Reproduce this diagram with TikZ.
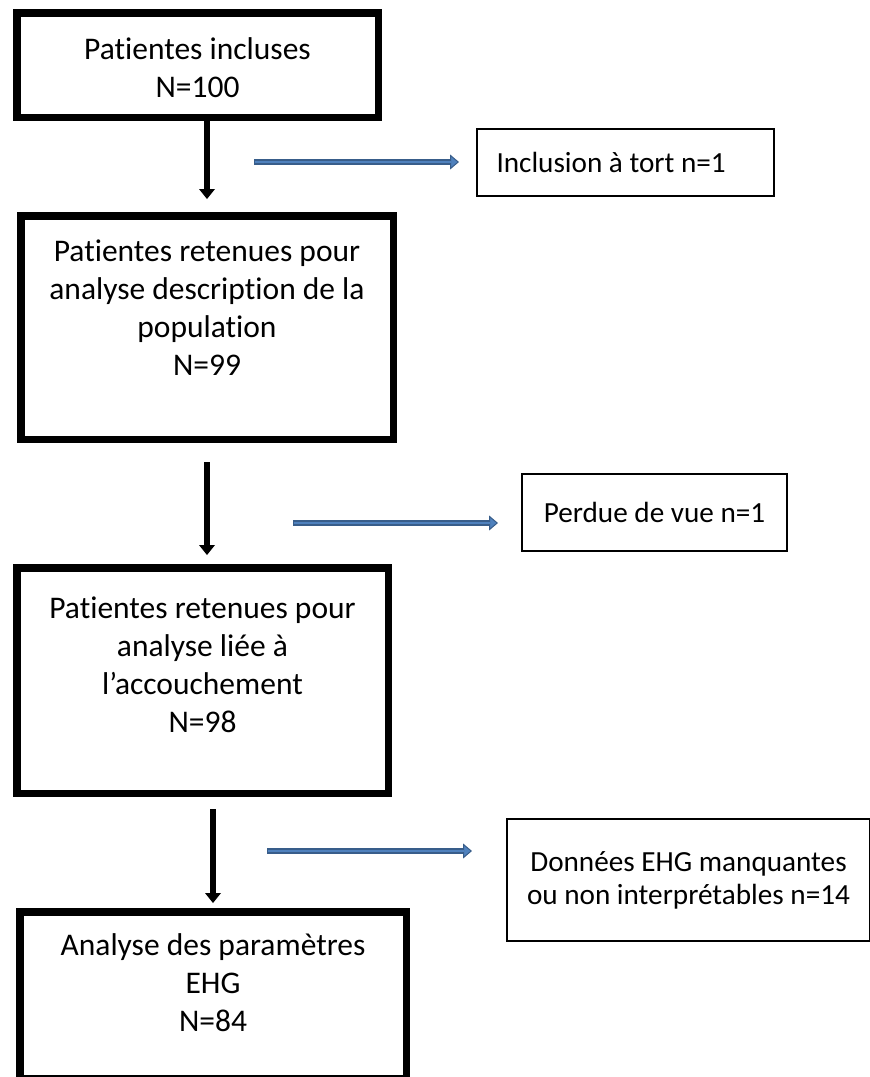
\documentclass[tikz,border=0pt]{standalone}
\usepackage{fontspec}
\setmainfont{Carlito}[Ligatures=CommonOff]
\usetikzlibrary{arrows.meta,calc}
\definecolor{arrowfill}{HTML}{4F81BD}
\definecolor{arrowedge}{HTML}{385D8A}
\newcommand{\boxlines}[4]{\parbox[t][#2][t]{#1}{\centering\rule{0pt}{#3}#4}}
\begin{document}
\begin{tikzpicture}[x=1pt, y=-1pt,
  font=\fontsize{29.2}{33}\selectfont,
  mainbox/.style={draw, line width=7.5pt, inner sep=0pt, anchor=north west, font=\fontsize{31.5}{38}\selectfont},
  sidebox/.style={draw, line width=1.8pt, inner sep=0pt, anchor=north west},
  flowarrow/.style={line width=6.5pt, -{Triangle[length=10pt, width=16pt, line width=0pt]}},
  sidearrow/.style={draw=arrowedge, line width=6pt, -{Triangle[length=9pt, width=15pt, line width=1pt, fill=arrowfill]},
    postaction={draw=arrowfill, line width=2.5pt, -, shorten <=1pt, shorten >=8pt}}]
\useasboundingbox (0,0) rectangle (870,1077);
\node[mainbox] (b1) at (13,9) {\boxlines{361.5pt}{104.5pt}{47pt}{Patientes incluses\\N=100}};
\node[mainbox] (b2) at (17,212) {\boxlines{372.5pt}{223.5pt}{46pt}{Patientes retenues pour\\analyse description de la\\population\\N=99}};
\node[mainbox] (b3) at (13,564) {\boxlines{371.5pt}{225.5pt}{51pt}{Patientes retenues pour\\analyse liée à\\l’accouchement\\N=98}};
\node[mainbox] (b4) at (16,908) {\boxlines{386.5pt}{166.5pt}{44pt}{Analyse des paramètres\\EHG\\N=84}};
\node[sidebox, minimum width=297.2pt, minimum height=67.2pt] (i1) at (476,128) {\makebox[258pt][l]{Inclusion à tort n=1}};
\node[sidebox, minimum width=265.2pt, minimum height=77.2pt] (p2) at (521,473) {Perdue de vue n=1};
\node[sidebox, minimum width=363.2pt, minimum height=122.2pt, align=center] (d3) at (506,818) {Données EHG manquantes\\ou non interprétables n=14};
\coordinate (s1) at (254,162);
\coordinate (s2) at (293,523);
\coordinate (s3) at (267,851);
\draw[flowarrow, shorten >=13pt] (b1.south -| b2.north) -- (b2.north);
\draw[flowarrow, shorten <=19pt, shorten >=9pt] (b2.south) -- (b2.south |- b3.north);
\draw[flowarrow, shorten <=12pt, shorten >=5pt] (b3.south -| b4.north) -- (b4.north);
\foreach \src/\dst/\gap in {s1/i1/17, s2/p2/23, s3/d3/34}
  \draw[sidearrow] (\src) -- ($(\src -| \dst.west)+(-\gap,0)$);
\end{tikzpicture}
\end{document}
